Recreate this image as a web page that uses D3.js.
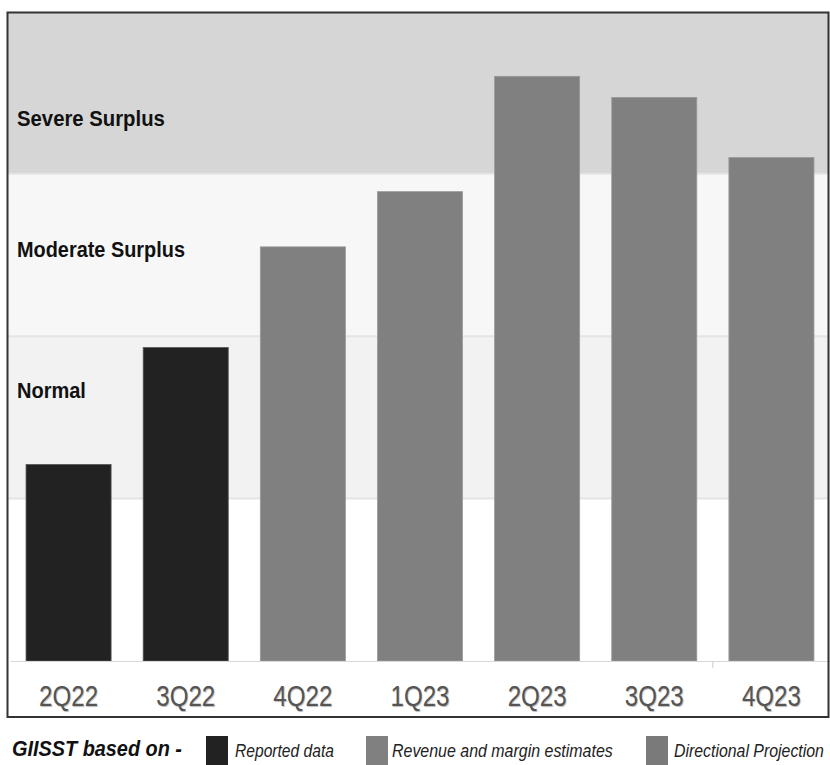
<!DOCTYPE html>
<html><head><meta charset="utf-8">
<script src="https://cdn.jsdelivr.net/npm/d3@7"></script>
<style>
body{margin:0;background:#fff;}
svg text{font-family:"Liberation Sans",Arial,sans-serif;}
</style></head>
<body>
<script>
const categories = ["2Q22","3Q22","4Q22","1Q23","2Q23","3Q23","4Q23"];
const values = [1.21, 1.93, 2.55, 2.89, 3.60, 3.47, 3.10];
const dataType = ["reported","reported","estimate","estimate","estimate","estimate","estimate"];
const bandLabels = ["Normal","Moderate Surplus","Severe Surplus"];
const bandRanges = [[1,2],[2,3],[3,4]];
const bandColors = ["#f2f2f2","#f7f7f7","#d6d6d6"];
const legendLabels = ["Reported data","Revenue and margin estimates","Directional Projection"];
const legendColors = ["#222222","#808080","#7a7a7a"];
const typeColor = {reported:"#222222", estimate:"#808080"};

const W=830,H=765;
const svg=d3.select("body").append("svg").attr("width",W).attr("height",H);
const pL=8,pR=828,pT=13,pB=661;
const x=d3.scaleBand().domain(categories).range([pL+2,pR+2]).paddingInner(0.274).paddingOuter(0.137);
const y=d3.scaleLinear().domain([0,3.99]).range([pB,pT]);

// condense a text horizontally to a target width via transform
function squeeze(sel, tx, ty, target){
  sel.each(function(d,i){
    const t=d3.select(this).attr("x",0).attr("y",0);
    const w=this.getComputedTextLength();
    const X=typeof tx==="function"?tx(d,i):tx, Y=typeof ty==="function"?ty(d,i):ty;
    const T=typeof target==="function"?target(d,i):target;
    t.attr("transform",`translate(${X},${Y}) scale(${T/w},1)`);
  });
}

// bands
svg.selectAll("rect.band").data(bandRanges).join("rect")
  .attr("x",pL).attr("width",pR-pL)
  .attr("y",d=>y(Math.min(d[1],3.99))).attr("height",d=>y(d[0])-y(Math.min(d[1],3.99)))
  .attr("fill",(d,i)=>bandColors[i]);
// band separators
svg.selectAll("line.sep").data([1,2,3]).join("line")
  .attr("x1",pL).attr("x2",pR).attr("y1",d=>y(d)).attr("y2",d=>y(d))
  .attr("stroke","#e4e4e4").attr("stroke-width",2);

// bars
svg.selectAll("rect.bar").data(categories).join("rect")
  .attr("x",d=>x(d)).attr("width",x.bandwidth())
  .attr("y",(d,i)=>y(values[i])).attr("height",(d,i)=>y(0)-y(values[i]))
  .attr("fill",(d,i)=>typeColor[dataType[i]])
  .attr("stroke",(d,i)=>dataType[i]==="reported"?"#555":"#999").attr("stroke-width",0.8);

// band labels (layout: baseline offsets from band bottom, and widths)
const blBase=[101,79,48];
const blWidth=[69,168,148];
const bl=svg.selectAll("text.bl").data(bandLabels).join("text")
  .attr("font-size",22).attr("font-weight","bold").attr("fill","#111")
  .text(d=>d);
squeeze(bl,17,(d,i)=>y(bandRanges[i][0])-blBase[i],(d,i)=>blWidth[i]);

// x axis
const xAxis=svg.append("g").attr("transform",`translate(0,${pB})`)
  .call(d3.axisBottom(x).tickSize(0).tickPadding(0));
xAxis.select(".domain").attr("stroke","#d8d8d8");
xAxis.selectAll("text").attr("font-size",29).attr("fill","#555").attr("dy",null)
  .attr("y",45)
  .attr("textLength",59).attr("lengthAdjust","spacingAndGlyphs")
  .style("text-shadow","1px 1px 1px #bbb");
// small tick mark
const tx=x("4Q23")-x.step()*x.paddingInner()/2;
svg.append("line").attr("x1",tx).attr("x2",tx)
  .attr("y1",pB).attr("y2",pB+7).attr("stroke","#ccc");

// frame
svg.append("rect").attr("x",7.5).attr("y",12.5).attr("width",821).attr("height",704.5)
  .attr("fill","none").attr("stroke","#333").attr("stroke-width",2);

// legend
const lg=svg.append("g");
const gt=lg.append("text").attr("font-size",22).attr("font-weight","bold")
  .attr("font-style","italic").attr("fill","#111").text("GIISST based on -");
squeeze(gt,12,756,170);
const lx=[206,366,646];
const lw=[99,221,150];
const lo=[29,26,28];
lg.selectAll("rect").data(legendLabels).join("rect")
  .attr("x",(d,i)=>lx[i]).attr("y",736).attr("width",22).attr("height",29)
  .attr("fill",(d,i)=>legendColors[i]);
const lt=lg.selectAll("text.li").data(legendLabels).join("text").attr("class","li")
  .attr("font-size",19).attr("font-style","italic").attr("fill","#222").text(d=>d);
squeeze(lt,(d,i)=>lx[i]+lo[i],757,(d,i)=>lw[i]);
</script>
</body></html>
